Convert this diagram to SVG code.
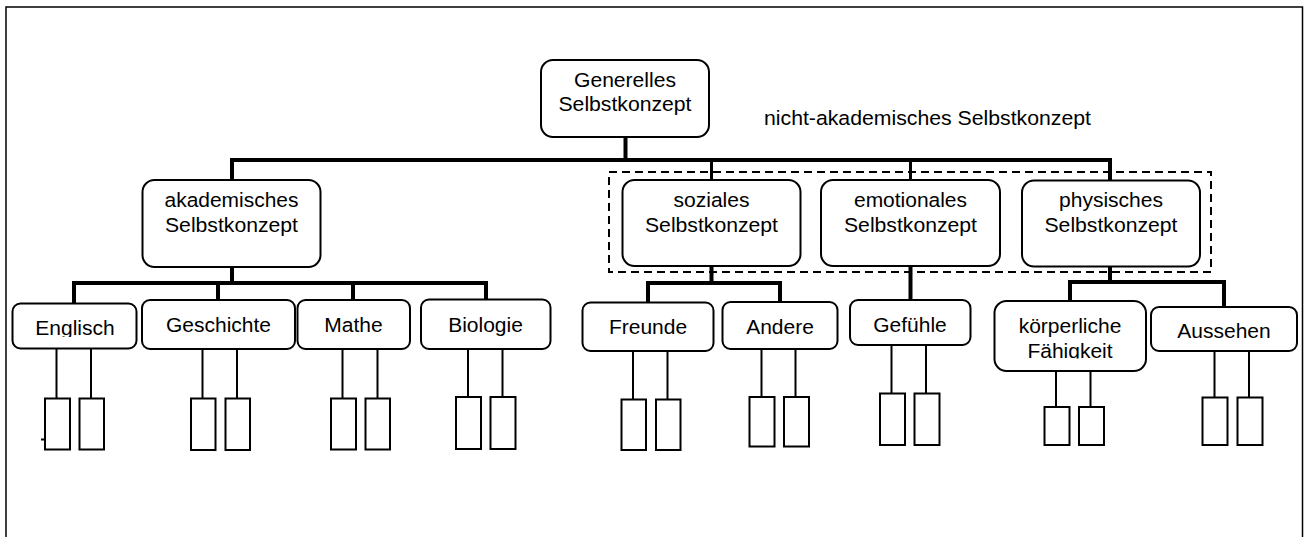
<svg xmlns="http://www.w3.org/2000/svg" width="1305" height="537" viewBox="0 0 1305 537">
<style>
.box{fill:#fff;stroke:#000;stroke-width:2}
.leaf{fill:#fff;stroke:#000;stroke-width:2}
.bus{fill:none;stroke:#000;stroke-width:4}
.thin{fill:none;stroke:#000;stroke-width:2}
.dash{fill:none;stroke:#000;stroke-width:2;stroke-dasharray:8 5}
text{font-family:"Liberation Sans",Arial,sans-serif;font-size:20.5px;fill:#000;text-anchor:middle}
</style>
<defs>
<clipPath id="clipEng"><rect x="10" y="300" width="130" height="37"/></clipPath>
<clipPath id="clipKoerp"><rect x="990" y="300" width="160" height="58.5"/></clipPath>
</defs>
<rect x="0" y="0" width="1305" height="537" fill="#fff"/>
<rect id="frame" x="6" y="7" width="1296.5" height="545" fill="none" stroke="#000" stroke-width="1.5"/>
<g id="connectors">
<path class="bus" d="M625.5,137 V160"/>
<path class="bus" d="M232,180 V160 H1110 V180"/>
<path class="bus" d="M711.5,160 V180 M910.5,160 V180" style="stroke-width:3"/>
<path class="bus" d="M232,267 V283 M74,303 V283 H486 V300 M218,283 V300 M353,283 V300"/>
<path class="bus" d="M711.5,266 V283 M648,302 V283 H780 V302"/>
<path class="bus" d="M910.5,266 V300"/>
<path class="bus" d="M1110,267 V282 M1070,301 V282 H1224 V307"/>
<path class="thin" d="M56.5,348 V398 M91,348 V398 M202.5,349 V398 M237,349 V398 M342.5,349 V398 M377.5,349 V398 M468,349 V397 M502.5,349 V397 M633,351 V399 M667.5,351 V399 M761.5,349 V397 M795.5,349 V397 M891.5,345 V393 M926,345 V393 M1056,371 V407 M1090.5,371 V407 M1214.5,351 V397 M1249,351 V397"/>
<path class="thin" d="M41,439.5 H48"/>
</g>
<rect id="nichtakad-group" class="dash" x="609" y="172" width="602" height="100"/>
<text x="927.5" y="125" textLength="327" lengthAdjust="spacingAndGlyphs">nicht-akademisches Selbstkonzept</text>
<g id="generell">
<rect class="box" x="541" y="60" width="168" height="77" rx="12"/>
<text x="625" y="87" textLength="102" lengthAdjust="spacingAndGlyphs">Generelles</text>
<text x="625" y="110.5" textLength="133" lengthAdjust="spacingAndGlyphs">Selbstkonzept</text>
</g>
<g id="akademisch">
<rect class="box" x="142.5" y="180" width="178" height="87" rx="12"/>
<text x="231.5" y="206.5" textLength="134" lengthAdjust="spacingAndGlyphs">akademisches</text>
<text x="231.5" y="231.5" textLength="133" lengthAdjust="spacingAndGlyphs">Selbstkonzept</text>
</g>
<g id="sozial">
<rect class="box" x="622.5" y="180" width="178" height="86" rx="12"/>
<text x="711.5" y="206.5" textLength="76" lengthAdjust="spacingAndGlyphs">soziales</text>
<text x="711.5" y="231.5" textLength="133" lengthAdjust="spacingAndGlyphs">Selbstkonzept</text>
</g>
<g id="emotional">
<rect class="box" x="821" y="180" width="179" height="86" rx="12"/>
<text x="910.5" y="206.5" textLength="113" lengthAdjust="spacingAndGlyphs">emotionales</text>
<text x="910.5" y="231.5" textLength="133" lengthAdjust="spacingAndGlyphs">Selbstkonzept</text>
</g>
<g id="physisch">
<rect class="box" x="1022" y="180.5" width="178" height="86" rx="12"/>
<text x="1111" y="206.5" textLength="104" lengthAdjust="spacingAndGlyphs">physisches</text>
<text x="1111" y="231.5" textLength="133" lengthAdjust="spacingAndGlyphs">Selbstkonzept</text>
</g>
<g id="englisch">
<rect class="box" x="12.5" y="303.5" width="124" height="45" rx="8"/>
<text x="75" y="335" textLength="79.4" lengthAdjust="spacingAndGlyphs" clip-path="url(#clipEng)">Englisch</text>
</g>
<g id="geschichte">
<rect class="box" x="142" y="300" width="153" height="49" rx="8"/>
<text x="218.5" y="332" textLength="105" lengthAdjust="spacingAndGlyphs">Geschichte</text>
</g>
<g id="mathe">
<rect class="box" x="297.5" y="300" width="112.5" height="49" rx="8"/>
<text x="353.5" y="332" textLength="58.4" lengthAdjust="spacingAndGlyphs">Mathe</text>
</g>
<g id="biologie">
<rect class="box" x="421" y="299.5" width="129.5" height="49.5" rx="8"/>
<text x="485.5" y="332" textLength="74.7" lengthAdjust="spacingAndGlyphs">Biologie</text>
</g>
<g id="freunde">
<rect class="box" x="582.5" y="302.5" width="131" height="48.5" rx="8"/>
<text x="648" y="334" textLength="78.2" lengthAdjust="spacingAndGlyphs">Freunde</text>
</g>
<g id="andere">
<rect class="box" x="722.5" y="302" width="115" height="47" rx="8"/>
<text x="780" y="334" textLength="67.7" lengthAdjust="spacingAndGlyphs">Andere</text>
</g>
<g id="gefuehle">
<rect class="box" x="850" y="300" width="120.5" height="45" rx="8"/>
<text x="910" y="331.5" textLength="73.5" lengthAdjust="spacingAndGlyphs">Gefühle</text>
</g>
<g id="koerperlich">
<rect class="box" x="994.5" y="301" width="151.5" height="70" rx="12"/>
<text x="1070" y="332.5" textLength="102.7" lengthAdjust="spacingAndGlyphs">körperliche</text>
<text x="1070" y="357.5" textLength="85.2" lengthAdjust="spacingAndGlyphs" clip-path="url(#clipKoerp)">Fähigkeit</text>
</g>
<g id="aussehen">
<rect class="box" x="1151" y="307" width="146" height="44" rx="8"/>
<text x="1224" y="337.5" textLength="93.4" lengthAdjust="spacingAndGlyphs">Aussehen</text>
</g>
<g id="leaves">
<rect class="leaf" x="45" y="398.5" width="25" height="51"/>
<rect class="leaf" x="79.5" y="398.5" width="24.5" height="51"/>
<rect class="leaf" x="191" y="398.5" width="24.5" height="51.5"/>
<rect class="leaf" x="225.5" y="398.5" width="24.5" height="51.5"/>
<rect class="leaf" x="331" y="398.5" width="25" height="51"/>
<rect class="leaf" x="365.5" y="398.5" width="24.5" height="51"/>
<rect class="leaf" x="456" y="397" width="25" height="52"/>
<rect class="leaf" x="490.5" y="397" width="25" height="52"/>
<rect class="leaf" x="621.5" y="399.5" width="24.5" height="50.5"/>
<rect class="leaf" x="656" y="399.5" width="24.5" height="50.5"/>
<rect class="leaf" x="749.5" y="397" width="25" height="49.5"/>
<rect class="leaf" x="784" y="397" width="25" height="49.5"/>
<rect class="leaf" x="880" y="393.5" width="25" height="51.5"/>
<rect class="leaf" x="914.5" y="393.5" width="25" height="51.5"/>
<rect class="leaf" x="1044.5" y="407" width="25" height="38"/>
<rect class="leaf" x="1079" y="407" width="25" height="38"/>
<rect class="leaf" x="1202.5" y="397.5" width="25" height="47.5"/>
<rect class="leaf" x="1237.5" y="397.5" width="25" height="47.5"/>
</g>
</svg>
